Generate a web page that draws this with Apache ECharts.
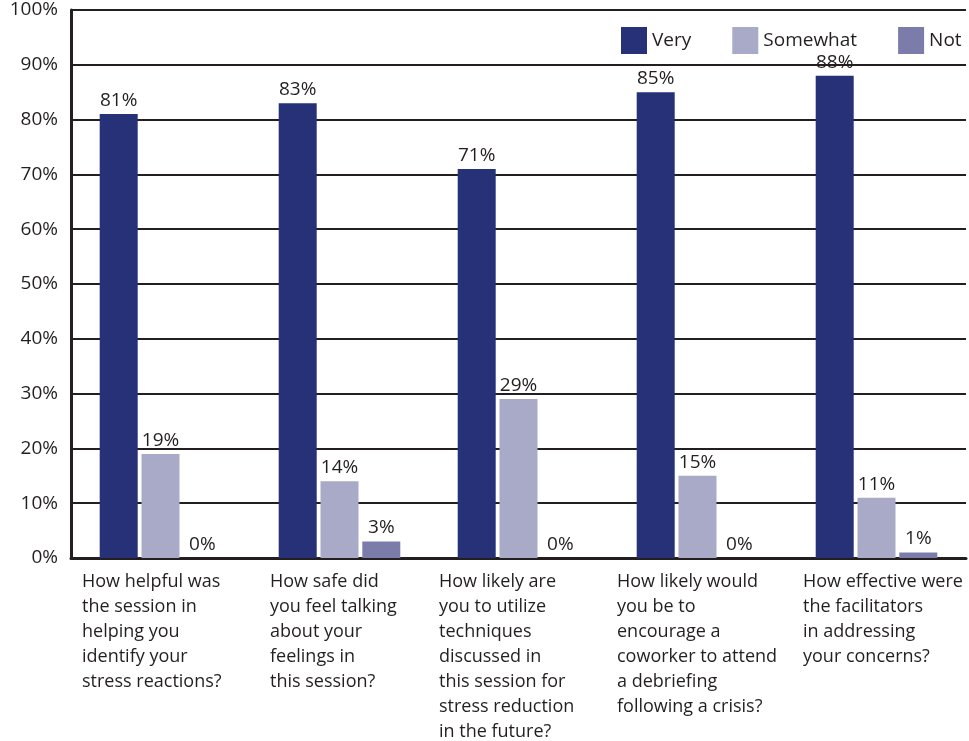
<!DOCTYPE html>
<html>
<head>
<meta charset="utf-8">
<script src="https://cdn.jsdelivr.net/npm/echarts@6/dist/echarts.min.js"></script>
<style>
  html, body { margin: 0; padding: 0; background: #fff; }
  #chart { width: 969px; height: 741px; }
</style>
</head>
<body>
<div id="chart"></div>
<script>
const questions = [
  "How helpful was\nthe session in\nhelping you\nidentify your\nstress reactions?",
  "How safe did\nyou feel talking\nabout your\nfeelings in\nthis session?",
  "How likely are\nyou to utilize\ntechniques\ndiscussed in\nthis session for\nstress reduction\nin the future?",
  "How likely would\nyou be to\nencourage a\ncoworker to attend\na debriefing\nfollowing a crisis?",
  "How effective were\nthe facilitators\nin addressing\nyour concerns?"
];
const very = [81, 83, 71, 85, 88];
const somewhat = [19, 14, 29, 15, 11];
const notAt = [0, 3, 0, 0, 1];

const font = "Open Sans";
const ink = "#231f20";

// label block widths per category, so lines start where the original's do
const labelWidths = [157, 139, 159, 161, 147];
const rich = {};
labelWidths.forEach((w, i) => {
  rich["q" + i] = { fontFamily: font, fontSize: 18, lineHeight: 25, color: ink, width: w, align: "left" };
});

const chart = echarts.init(document.getElementById("chart"));

const barLabel = {
  show: true,
  position: "top",
  distance: 4,
  formatter: p => p.value + "%",
  fontFamily: font,
  fontSize: 19,
  color: ink
};

chart.setOption({
  animation: false,
  textStyle: { fontFamily: font },
  legend: {
    left: 616,
    top: 22,
    itemWidth: 26,
    itemHeight: 27,
    itemGap: 41,
    icon: "rect",
    textStyle: { fontFamily: font, fontSize: 19, color: ink }
  },
  grid: { left: 71, right: 3, top: 10, bottom: 183 },
  xAxis: {
    type: "category",
    data: questions,
    axisLine: { lineStyle: { color: ink, width: 3 } },
    axisTick: { inside: true, length: 12, lineStyle: { color: ink, width: 2 } },
    axisLabel: {
      interval: 0,
      margin: 11,
      formatter: (v, i) => v.split("\n").map(s => "{q" + i + "|" + s + "}").join("\n"),
      rich: rich
    }
  },
  yAxis: {
    type: "value",
    min: 0,
    max: 100,
    interval: 10,
    axisLine: { show: true, lineStyle: { color: ink, width: 3 } },
    axisTick: { show: false },
    axisLabel: {
      margin: 13,
      formatter: v => v + "%",
      fontFamily: font,
      fontSize: 19,
      color: ink
    },
    splitLine: { lineStyle: { color: ink, width: 2 } }
  },
  series: [
    {
      name: "Very",
      type: "bar",
      data: very,
      barWidth: 38,
      barGap: "10%",
      itemStyle: { color: "#263177" },
      label: barLabel
    },
    {
      name: "Somewhat",
      type: "bar",
      data: somewhat,
      barWidth: 38,
      barGap: "10%",
      itemStyle: { color: "#a9a9c8" },
      label: barLabel
    },
    {
      name: "Not",
      type: "bar",
      data: notAt,
      barWidth: 38,
      barGap: "10%",
      itemStyle: { color: "#7c7cab" },
      label: barLabel
    }
  ]
});
</script>
</body>
</html>
